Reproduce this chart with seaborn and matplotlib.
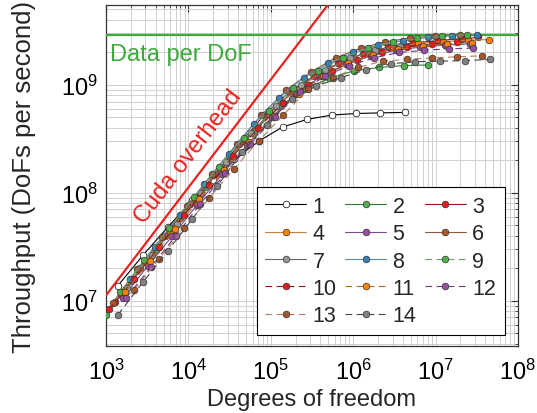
import matplotlib
matplotlib.use('Agg')
import matplotlib.pyplot as plt
import seaborn as sns
import numpy as np

# Degrees of freedom / throughput (DoFs per second) per configuration
dofs_1 = [1.4e3, 2.8e3, 5.6e3, 1.12e4, 2.0e4, 3.6e4, 7.2e4, 1.39e5, 2.77e5, 5.5e5, 1.08e6, 2.1e6, 4.3e6]
tput_1 = [1.38e7, 2.63e7, 4.79e7, 8.5e7, 1.32e8, 2.04e8, 3.02e8, 4.07e8, 4.79e8, 5.25e8, 5.43e8, 5.5e8, 5.56e8]
dofs_2 = [1.0e3, 2.0e3, 4.0e3, 8.0e3, 1.6e4, 3.2e4, 6.4e4, 1.28e5, 2.56e5, 5.12e5, 1.02e6, 2.05e6, 4.1e6, 8.2e6]
tput_2 = [7.4e6, 1.51e7, 2.95e7, 5.89e7, 1.12e8, 2.09e8, 3.8e8, 6.31e8, 9.12e8, 1.15e9, 1.35e9, 1.45e9, 1.51e9, 1.53e9]
dofs_3 = [1.3e3, 2.6e3, 5.2e3, 1.04e4, 2.08e4, 4.16e4, 8.3e4, 1.66e5, 3.3e5, 6.6e5, 1.33e6, 2.66e6, 5.3e6, 1.06e7, 2.1e7, 3.3e7]
tput_3 = [9.8e6, 2.0e7, 3.98e7, 7.94e7, 1.48e8, 2.82e8, 5.25e8, 8.51e8, 1.2e9, 1.58e9, 1.95e9, 2.24e9, 2.45e9, 2.57e9, 2.69e9, 2.75e9]
dofs_4 = [1.5e3, 3.0e3, 6.0e3, 1.2e4, 2.4e4, 4.8e4, 9.6e4, 1.92e5, 3.84e5, 7.7e5, 1.54e6, 3.07e6, 6.1e6, 1.23e7, 2.46e7, 4.4e7]
tput_4 = [1.15e7, 2.29e7, 4.47e7, 8.71e7, 1.66e8, 3.09e8, 5.37e8, 8.71e8, 1.26e9, 1.66e9, 2.0e9, 2.24e9, 2.43e9, 2.51e9, 2.6e9, 2.63e9]
dofs_5 = [1.6e3, 3.2e3, 6.4e3, 1.28e4, 2.56e4, 5.12e4, 1.02e5, 2.05e5, 4.1e5, 8.2e5, 1.64e6, 3.28e6, 6.55e6, 1.31e7, 2.62e7]
tput_5 = [1.07e7, 2.09e7, 3.98e7, 7.76e7, 1.48e8, 2.75e8, 5.01e8, 8.32e8, 1.2e9, 1.55e9, 1.86e9, 2.09e9, 2.24e9, 2.34e9, 2.4e9]
dofs_6 = [1.2e3, 2.4e3, 4.8e3, 9.6e3, 1.92e4, 3.84e4, 7.7e4, 1.54e5, 3.07e5, 6.1e5, 1.23e6, 2.46e6, 4.9e6, 9.8e6, 1.96e7]
tput_6 = [9.55e6, 1.95e7, 3.89e7, 7.59e7, 1.48e8, 2.82e8, 5.25e8, 8.91e8, 1.32e9, 1.78e9, 2.19e9, 2.51e9, 2.72e9, 2.85e9, 2.92e9]
dofs_7 = [1.8e3, 3.6e3, 7.2e3, 1.44e4, 2.88e4, 5.76e4, 1.15e5, 2.3e5, 4.6e5, 9.2e5, 1.84e6, 3.7e6]
tput_7 = [1.32e7, 2.63e7, 5.13e7, 1.0e8, 1.91e8, 3.55e8, 6.31e8, 1.0e9, 1.38e9, 1.78e9, 2.09e9, 2.29e9]
dofs_8 = [1.95e3, 3.9e3, 7.8e3, 1.56e4, 3.1e4, 6.2e4, 1.25e5, 2.5e5, 5.0e5, 1.0e6, 2.0e6, 4.0e6, 8.0e6, 1.6e7, 3.2e7]
tput_8 = [1.58e7, 3.16e7, 6.17e7, 1.2e8, 2.29e8, 4.37e8, 7.59e8, 1.17e9, 1.58e9, 2.0e9, 2.34e9, 2.57e9, 2.75e9, 2.85e9, 2.88e9]
dofs_9 = [1.47e3, 2.93e3, 5.86e3, 1.17e4, 2.34e4, 4.7e4, 9.4e4, 1.88e5, 3.75e5, 7.5e5, 1.5e6, 3.0e6, 6.0e6, 1.2e7, 2.4e7]
tput_9 = [1.2e7, 2.4e7, 4.68e7, 9.12e7, 1.74e8, 3.24e8, 5.75e8, 9.33e8, 1.35e9, 1.78e9, 2.19e9, 2.51e9, 2.73e9, 2.86e9, 2.92e9]
dofs_10 = [1.1e3, 2.2e3, 4.4e3, 8.8e3, 1.76e4, 3.5e4, 7.0e4, 1.4e5, 2.8e5, 5.6e5, 1.12e6, 2.25e6, 4.5e6, 9.0e6, 1.8e7]
tput_10 = [8.3e6, 1.58e7, 3.16e7, 6.17e7, 1.17e8, 2.19e8, 3.98e8, 6.76e8, 1.0e9, 1.35e9, 1.7e9, 2.0e9, 2.24e9, 2.4e9, 2.51e9]
dofs_11 = [1.7e3, 3.4e3, 6.8e3, 1.36e4, 2.72e4, 5.4e4, 1.09e5, 2.18e5, 4.35e5, 8.7e5, 1.74e6, 3.5e6, 7.0e6, 1.39e7, 2.8e7]
tput_11 = [1.2e7, 2.34e7, 4.57e7, 8.71e7, 1.62e8, 2.95e8, 5.13e8, 8.32e8, 1.2e9, 1.58e9, 1.91e9, 2.14e9, 2.29e9, 2.4e9, 2.45e9]
dofs_12 = [1.76e3, 3.5e3, 7.0e3, 1.4e4, 2.8e4, 5.6e4, 1.12e5, 2.25e5, 4.5e5, 9.0e5, 1.8e6, 3.6e6, 7.2e6, 1.44e7, 2.88e7]
tput_12 = [1.07e7, 2.04e7, 3.98e7, 7.94e7, 1.51e8, 2.82e8, 5.01e8, 8.51e8, 1.2e9, 1.51e9, 1.78e9, 2.0e9, 2.09e9, 2.16e9, 2.19e9]
dofs_13 = [2.2e3, 4.4e3, 8.9e3, 1.78e4, 3.55e4, 7.1e4, 1.42e5, 2.84e5, 5.7e5, 1.14e6, 2.27e6, 4.55e6, 9.1e6, 1.82e7, 3.63e7]
tput_13 = [1.26e7, 2.45e7, 4.68e7, 8.91e7, 1.66e8, 3.02e8, 5.25e8, 9.12e8, 1.17e9, 1.45e9, 1.66e9, 1.72e9, 1.78e9, 1.82e9, 1.86e9]
dofs_14 = [1.4e3, 2.8e3, 5.6e3, 1.12e4, 2.23e4, 4.5e4, 8.9e4, 1.79e5, 3.57e5, 7.1e5, 1.43e6, 2.86e6, 5.7e6, 1.14e7, 2.29e7, 4.57e7]
tput_14 = [7.41e6, 1.48e7, 2.88e7, 5.75e7, 1.15e8, 2.4e8, 4.27e8, 7.41e8, 9.77e8, 1.17e9, 1.38e9, 1.57e9, 1.64e9, 1.66e9, 1.68e9, 1.72e9]

labels = ['1', '2', '3', '4', '5', '6', '7', '8', '9', '10', '11', '12', '13', '14']
marker_colors = ['white', '#4daf4a', '#e41a1c', '#ff7f00', '#984ea3', '#a65628', '#999999',
                 '#377eb8', '#4daf4a', '#e41a1c', '#ff7f00', '#984ea3', '#a65628', '#808080']
line_colors = ['black', '#2e7d32', '#8b1a1a', '#c87f3a', '#7b4a8a', '#8b5a3c', '#666666',
               '#5b8db8', '#5fa35f', '#8b1a1a', '#b06a20', '#6a3d7a', '#b08060', '#444444']
dashed = [False] * 8 + [True] * 6

cuda_rate = 1.12e4       # DoFs per second per DoF (launch overhead bound)
data_per_dof = 2.9e9     # memory bandwidth bound

all_dofs = [dofs_1, dofs_2, dofs_3, dofs_4, dofs_5, dofs_6, dofs_7,
            dofs_8, dofs_9, dofs_10, dofs_11, dofs_12, dofs_13, dofs_14]
all_tput = [tput_1, tput_2, tput_3, tput_4, tput_5, tput_6, tput_7,
            tput_8, tput_9, tput_10, tput_11, tput_12, tput_13, tput_14]

sns.set_theme(style="whitegrid")
plt.rcParams['font.family'] = ['Liberation Sans', 'DejaVu Sans']
plt.rcParams['font.size'] = 17

fig = plt.figure(figsize=(5.37, 4.14), dpi=100)
ax = fig.add_axes([0.1974, 0.1618, 0.7672, 0.8237])
ax.set_xscale('log')
ax.set_yscale('log')
ax.set_xlim(1e3, 1e8)
ax.set_ylim(3.8e6, 5.5e9)

# roofline-style bounds
xb = np.array(ax.get_xlim())
ax.plot(xb, cuda_rate * xb, color='#e8221e', lw=1.6, zorder=3)
ax.axhline(data_per_dof, color='#3daa3d', lw=1.6, zorder=3)

handles = []
for i in range(14):
    sns.lineplot(x=all_dofs[i], y=all_tput[i], ax=ax, color=line_colors[i],
                 lw=0.8, marker='o', markersize=4.8, markerfacecolor=marker_colors[i],
                 markeredgecolor='#333333' if i > 0 else 'black', markeredgewidth=0.5,
                 linestyle=(0, (6, 4)) if dashed[i] else '-',
                 estimator=None, sort=False, errorbar=None, label=labels[i], zorder=4)
    handles.append(ax.lines[-1])

ax.grid(which='both', color='#d0d0d0', lw=0.7)
for s in ax.spines.values():
    s.set_color('#333333')
    s.set_linewidth(0.9)
ax.tick_params(which='both', direction='in', top=True, right=True, colors='#333333',
               labelcolor='black', labelsize=17)
ax.tick_params(which='major', length=5, width=0.8)
ax.tick_params(axis='x', which='major', pad=9)
ax.tick_params(axis='y', which='major', pad=6)
ax.tick_params(which='minor', length=2.5, width=0.6)
ax.xaxis.set_major_locator(matplotlib.ticker.LogLocator(base=10, numticks=10))
ax.xaxis.set_minor_locator(matplotlib.ticker.LogLocator(base=10, subs=np.arange(2, 10), numticks=20))
ax.yaxis.set_minor_locator(matplotlib.ticker.LogLocator(base=10, subs=np.arange(2, 10), numticks=20))

ax.set_xlabel('Degrees of freedom', fontsize=17, labelpad=3)
ax.set_ylabel('Throughput (DoFs per second)', fontsize=18.5, labelpad=18)

ax.text(1.12e3, 1.95e9, 'Data per DoF', color='#3daa3d', fontsize=17, va='center', ha='left')
p1 = ax.transData.transform((1e4, cuda_rate * 1e4))
p2 = ax.transData.transform((1e5, cuda_rate * 1e5))
angle = np.degrees(np.arctan2(p2[1] - p1[1], p2[0] - p1[0]))
ax.text(9.9e3, 2.2e8, 'Cuda overhead', color='#e8221e', fontsize=17, rotation=angle,
        rotation_mode='anchor', ha='center', va='center')

order = [0, 3, 6, 9, 12, 1, 4, 7, 10, 13, 2, 5, 8, 11]
leg = ax.legend([handles[k] for k in order], [labels[k] for k in order], ncol=3,
                loc='lower right', bbox_to_anchor=(0.968, 0.032), borderaxespad=0,
                fontsize=15.5, handlelength=1.9, handletextpad=0.3, columnspacing=0.4,
                labelspacing=0.3, borderpad=0.4, fancybox=False, framealpha=1,
                edgecolor='black')
leg.get_frame().set_linewidth(0.8)

fig.savefig('out.png', dpi=100)
plt.close(fig)
